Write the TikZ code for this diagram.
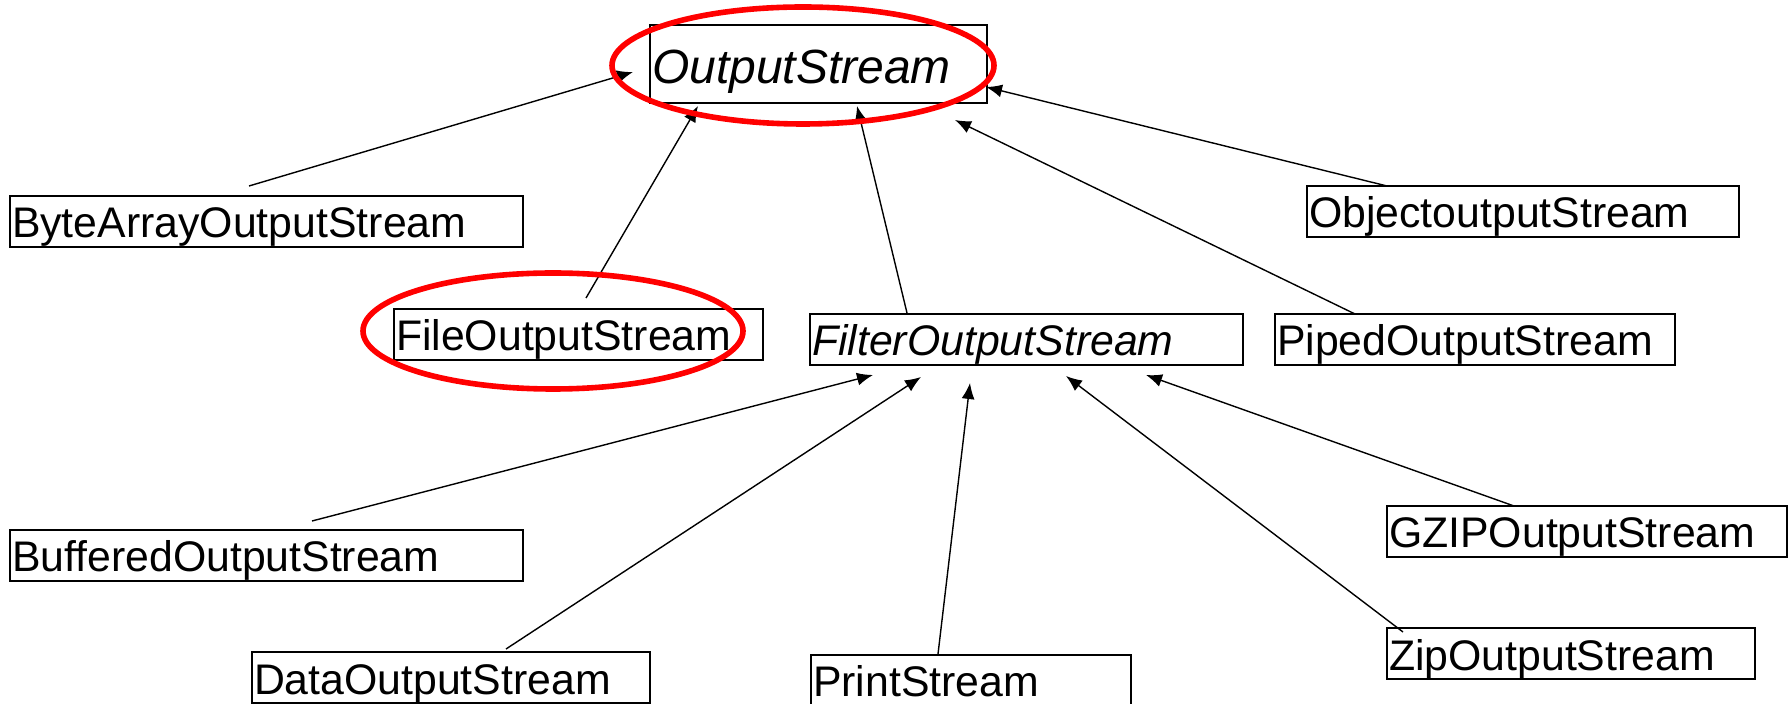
\documentclass[tikz,border=0pt]{standalone}
\usepackage{fontspec}
\setmainfont{Liberation Sans}
\usetikzlibrary{arrows.meta,calc}

\tikzset{
  cls/.style={draw, line width=1pt, anchor=north west, inner xsep=1pt, inner ysep=0pt,
    align=left, font=\fontsize{21.4}{25}\selectfont, text height=21pt, text depth=4.5pt},
  inh/.style={line width=0.7pt, -{Latex[length=8pt,width=6.5pt]}},
  ring/.style={draw=red, line width=2.8pt},
}

\begin{document}
\begin{tikzpicture}[x=0.5pt,y=-0.5pt]
  \clip (0,0) rectangle (1792,704);
  \fill[white] (0,0) rectangle (1792,704);

  % base class
  \node[cls, text width=166.5pt, text height=29.5pt, text depth=9.5pt,
        font=\fontsize{24}{28}\selectfont\itshape] (output) at (649,24) {OutputStream};

  % direct subclasses
  \node[cls, text width=254.5pt] (bytearray) at (9,195)    {ByteArrayOutputStream};
  \node[cls, text width=182.5pt] (file)      at (393,308)  {FileOutputStream};
  \node[cls, text width=214.5pt, font=\fontsize{21.4}{25}\selectfont\itshape]
                                 (filter)    at (809,313)  {FilterOutputStream};
  \node[cls, text width=198pt]   (piped)     at (1274,313) {PipedOutputStream};
  \node[cls, text width=214pt]   (object)    at (1306,185) {ObjectoutputStream};

  % filter subclasses
  \node[cls, text width=254.5pt] (buffered)  at (9,529)    {BufferedOutputStream};
  \node[cls, text width=197pt]   (data)      at (251,651)  {DataOutputStream};
  \node[cls, text width=158pt]   (print)     at (810,654)  {PrintStream};
  \node[cls, text width=198pt]   (gzip)      at (1386,505) {GZIPOutputStream};
  \node[cls, text width=182pt]   (zip)       at (1386,627) {ZipOutputStream};

  % connector ends
  \coordinate (ba-t) at ($(bytearray.north west)+(240,-9)$);
  \coordinate (fi-t) at ($(file.north west)+(193,-10)$);
  \coordinate (fl-t) at ($(filter.north west)+(98,0)$);
  \coordinate (pi-t) at ($(piped.north west)+(81,1)$);
  \coordinate (ob-t) at ($(object.north west)+(81,1)$);
  \coordinate (ba-h) at ($(output.north west)+(-16,48)$);
  \coordinate (fi-h) at ($(output.north west)+(49,82)$);
  \coordinate (fl-h) at ($(output.north west)+(208,82)$);
  \coordinate (pi-h) at ($(output.north west)+(306,96)$);
  \coordinate (ob-h) at ($(output.north west)+(337,63)$);

  \coordinate (bu-t) at ($(buffered.north west)+(303,-8)$);
  \coordinate (da-t) at ($(data.north west)+(255,-2)$);
  \coordinate (pr-t) at ($(print.north west)+(128,0)$);
  \coordinate (zi-t) at ($(zip.north west)+(17,5)$);
  \coordinate (gz-t) at ($(gzip.north west)+(128,1)$);
  \coordinate (bu-h) at ($(filter.north west)+(64,62)$);
  \coordinate (da-h) at ($(filter.north west)+(112,64)$);
  \coordinate (pr-h) at ($(filter.north west)+(161,70)$);
  \coordinate (zi-h) at ($(filter.north west)+(257,63)$);
  \coordinate (gz-h) at ($(filter.north west)+(337,62)$);

  % inheritance arrows
  \draw[inh] (ba-t) -- (ba-h);
  \draw[inh] (fi-t) -- (fi-h);
  \draw[inh] (fl-t) -- (fl-h);
  \draw[inh] (pi-t) -- (pi-h);
  \draw[inh] (ob-t) -- (ob-h);
  \draw[inh] (bu-t) -- (bu-h);
  \draw[inh] (da-t) -- (da-h);
  \draw[inh] (pr-t) -- (pr-h);
  \draw[inh] (zi-t) -- (zi-h);
  \draw[inh] (gz-t) -- (gz-h);

  % highlight rings
  \coordinate (ring1) at (803,65.5);
  \coordinate (ring2) at (553,331);
  \draw[ring] (ring1) ellipse [x radius=191, y radius=58.5];
  \draw[ring] (ring2) ellipse [x radius=190, y radius=58];
\end{tikzpicture}
\end{document}
